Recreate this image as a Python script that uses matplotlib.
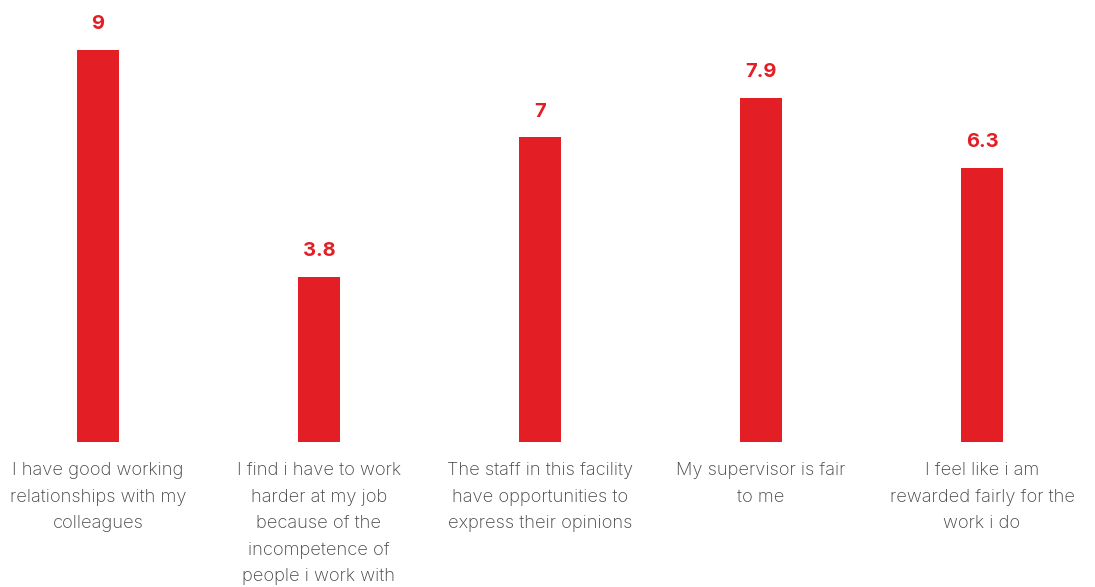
import matplotlib.pyplot as plt
from matplotlib.transforms import blended_transform_factory

categories = [
    "I have good working\nrelationships with my\ncolleagues",
    "I find i have to work\nharder at my job\nbecause of the\nincompetence of\npeople i work with",
    "The staff in this facility\nhave opportunities to\nexpress their opinions",
    "My supervisor is fair\nto me",
    "I feel like i am\nrewarded fairly for the\nwork i do",
]
scores = [9, 3.8, 7, 7.9, 6.3]
value_labels = ["9", "3.8", "7", "7.9", "6.3"]

red = "#E31E24"

fig = plt.figure(figsize=(10.95, 5.87), dpi=100)
ax = fig.add_axes([0, 0.247, 1, 0.753])

x = list(range(len(scores)))
ax.bar(x, scores, width=0.19, color=red)
ax.set_xlim(-0.443, 4.511)
ax.set_ylim(0, 10.15)
ax.axis("off")

# bold value labels above each bar
for i, (v, lab) in enumerate(zip(scores, value_labels)):
    ax.annotate(lab, (i, v), xytext=(0, 12), textcoords="offset points",
                ha="center", va="bottom", fontsize=14.5, fontweight="bold",
                color=red, family="Inter")

# wrapped statements under the bars
trans = blended_transform_factory(ax.transData, fig.transFigure)
for i, cat in enumerate(categories):
    ax.text(i, 1 - 462 / 587, cat, transform=trans, ha="center", va="top",
            fontsize=13.2, color="#444444", family="Inter", fontweight="light",
            linespacing=1.74, multialignment="center")

fig.savefig("out.png", dpi=100)
